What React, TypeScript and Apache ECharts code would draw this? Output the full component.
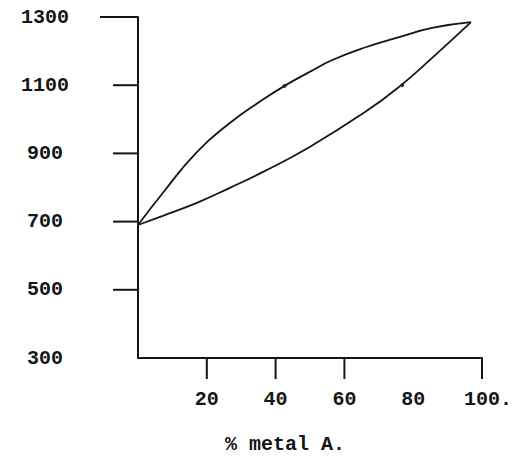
import React, { useEffect, useRef } from "react";
import * as echarts from "echarts";

const upperX = [0, 7.2, 17.1, 26.7, 36.2, 42.6, 49.9, 56.5, 66.4, 75.9, 85.5, 96.8];
const upperY = [690, 784, 904, 989, 1057, 1098, 1139, 1174, 1212, 1241, 1268, 1285];
const lowerX = [0, 7.2, 17.1, 26.7, 36.2, 49.9, 66.4, 75.9, 85.5, 96.8];
const lowerY = [690, 717, 755, 799, 845, 919, 1024, 1095, 1180, 1285];
const dotsX = [42.6, 76.8];
const dotsY = [1098, 1100];
const xTickValues = [20, 40, 60, 100];
const yTickValues = [1300, 1100, 900, 700, 500];
const yTickLengths = [38, 25, 25, 25, 25];
const xAxisTitle = "% metal A.";

const FONT = "'Liberation Mono', 'DejaVu Sans Mono', monospace";
const INK = "#151515";

export default function App() {
  const ref = useRef<HTMLDivElement>(null);
  useEffect(() => {
    if (!ref.current) return;
    const chart = echarts.init(ref.current, undefined, { renderer: "svg" });
    const upper = upperX.map((x, i) => [x, upperY[i]]);
    const lower = lowerX.map((x, i) => [x, lowerY[i]]);
    const dots = dotsX.map((x, i) => [x, dotsY[i]]);
    chart.setOption({
      animation: false,
      backgroundColor: "#ffffff",
      grid: { left: 138, right: 32, top: 17, bottom: 99, containLabel: false },
      xAxis: {
        type: "value",
        min: 0,
        max: 100,
        interval: 20,
        splitLine: { show: false },
        axisTick: { show: false },
        axisLine: { show: true, lineStyle: { color: INK, width: 2 } },
        axisLabel: {
          margin: 31,
          color: INK,
          fontFamily: FONT,
          fontWeight: "bold",
          fontSize: 20,
          formatter: (v: number) => (v === 0 ? "" : v === 100 ? "{p|100.}" : String(v)),
          rich: {
            p: {
              padding: [0, 0, 0, 12],
              color: INK,
              fontFamily: FONT,
              fontWeight: "bold",
              fontSize: 20,
            },
          },
        },
      },
      yAxis: {
        type: "value",
        min: 300,
        max: 1300,
        interval: 200,
        splitLine: { show: false },
        axisTick: { show: false },
        axisLine: { show: true, lineStyle: { color: INK, width: 2 } },
        axisLabel: {
          margin: 93,
          align: "center",
          color: INK,
          fontFamily: FONT,
          fontWeight: "bold",
          fontSize: 20,
          formatter: (v: number) => String(v),
        },
      },
      graphic: [
        {
          type: "text",
          left: 225,
          top: 434,
          style: {
            text: xAxisTitle,
            fill: INK,
            font: `bold 20px ${FONT}`,
          },
        },
      ],
      series: [
        {
          type: "line",
          data: upper,
          smooth: true,
          showSymbol: false,
          lineStyle: { color: INK, width: 1.8 },
        },
        {
          type: "line",
          data: lower,
          smooth: true,
          showSymbol: false,
          lineStyle: { color: INK, width: 1.8 },
        },
        {
          type: "scatter",
          data: dots,
          symbolSize: 4,
          itemStyle: { color: INK },
        },
        {
          type: "custom",
          clip: false,
          data: xTickValues.map((v) => [v, 300]),
          encode: { x: 0, y: 1 },
          renderItem: (params: any, api: any) => {
            const p = api.coord([api.value(0), 300]);
            return {
              type: "line",
              shape: { x1: p[0], y1: p[1], x2: p[0], y2: p[1] + 21 },
              style: { stroke: INK, lineWidth: 2 },
            };
          },
        },
        {
          type: "custom",
          clip: false,
          data: yTickValues.map((v, i) => [0, v, yTickLengths[i]]),
          encode: { x: 0, y: 1 },
          renderItem: (params: any, api: any) => {
            const p = api.coord([0, api.value(1)]);
            const len = api.value(2);
            return {
              type: "line",
              shape: { x1: p[0] - len, y1: p[1], x2: p[0], y2: p[1] },
              style: { stroke: INK, lineWidth: 2 },
            };
          },
        },
      ],
    });
    return () => chart.dispose();
  }, []);
  return (
    <div
      ref={ref}
      style={{ position: "absolute", left: 0, top: 0, width: 515, height: 457 }}
    />
  );
}
